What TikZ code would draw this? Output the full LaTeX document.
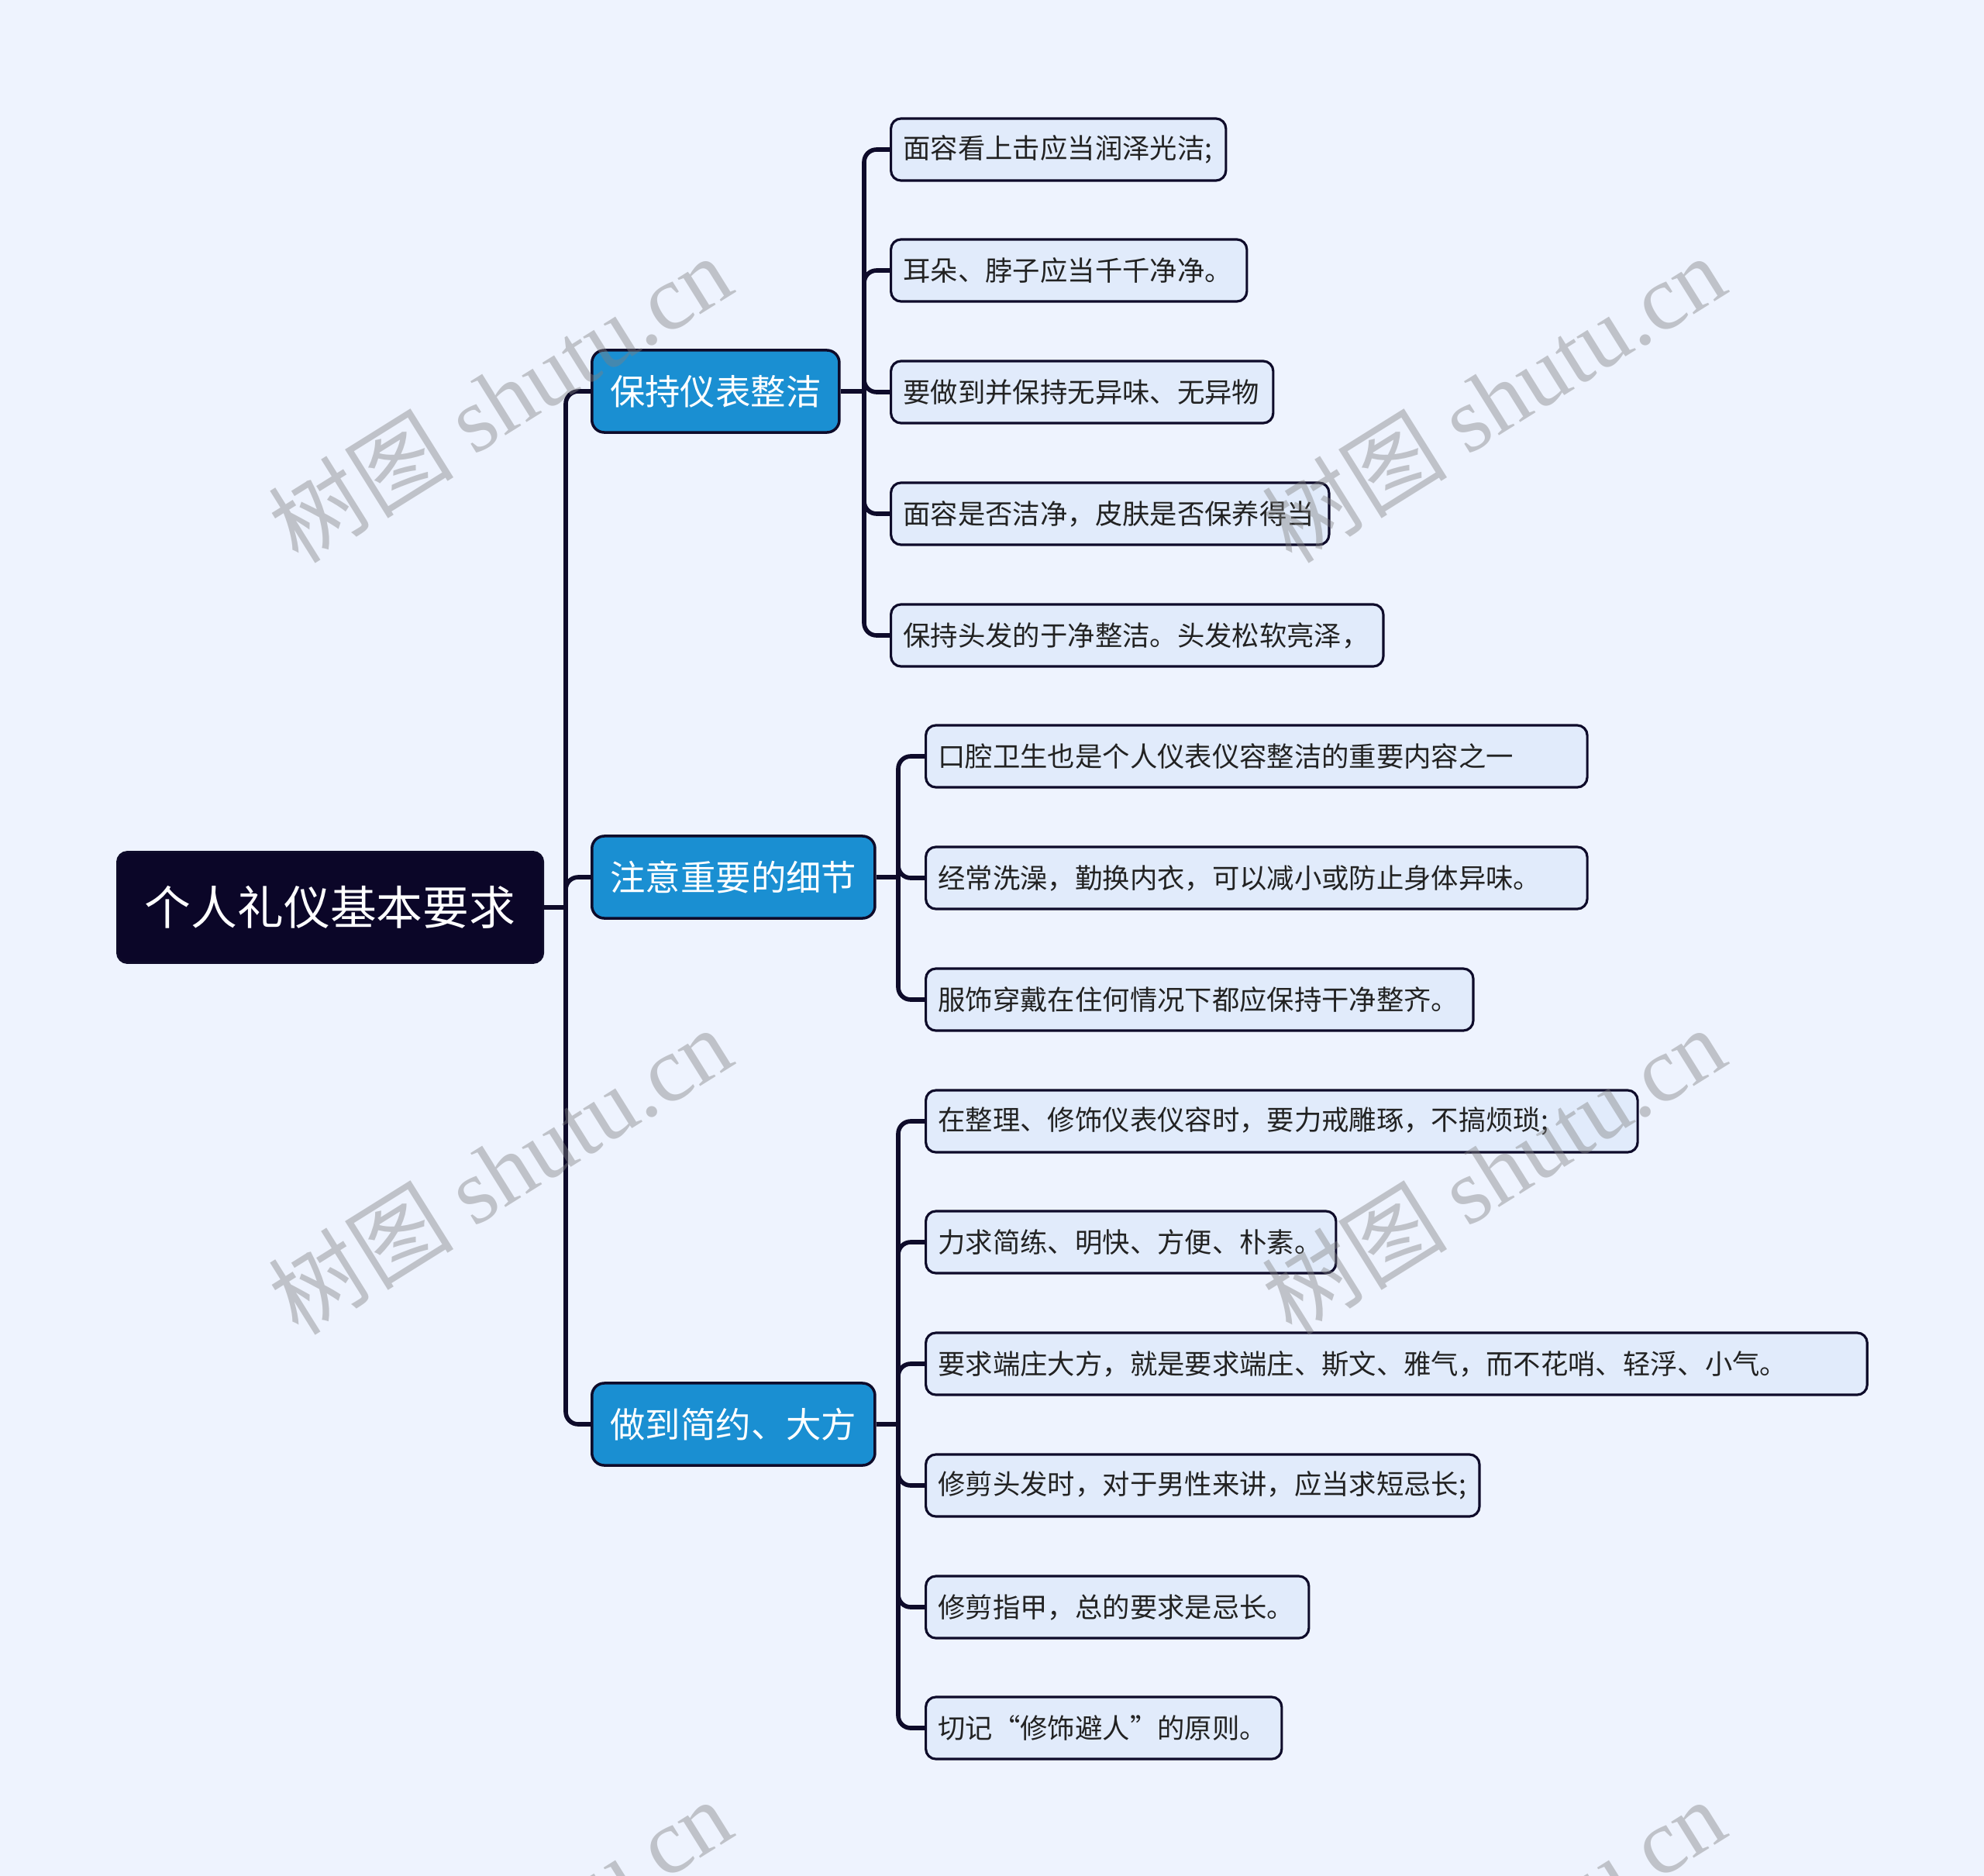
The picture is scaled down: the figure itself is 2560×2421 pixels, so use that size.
\documentclass[tikz,border=0pt]{standalone}
\usepackage{fontspec}
\setmainfont{Noto Sans CJK SC}
\newfontfamily\wmlatin{Liberation Serif}
\definecolor{bgc}{HTML}{EEF3FE}
\definecolor{rootc}{HTML}{0B0628}
\definecolor{brc}{HTML}{1A8FD2}
\definecolor{leafc}{HTML}{E1EBFB}
\definecolor{linec}{HTML}{0E0B2A}
\definecolor{txtc}{HTML}{222222}
\newcommand\lftext[2]{\hbox to #1{\hspace{0.16cm}#2\hss}}
\begin{document}
\begin{tikzpicture}[x=0.01cm,y=-0.01cm,
  rootbox/.style={draw=linec, line width=0.8pt, fill=rootc, text=white, rounded corners=0.13cm,
    anchor=west, minimum height=1.43cm, minimum width=5.49cm, inner sep=0pt,
    font=\fontsize{17pt}{20pt}\selectfont},
  brbox/.style={draw=linec, line width=1pt, fill=brc, text=white, rounded corners=0.16cm,
    anchor=west, minimum height=1.06cm, inner sep=0pt,
    font=\fontsize{12.9pt}{15pt}\selectfont},
  leafbox/.style={draw=linec, line width=0.9pt, fill=leafc, text=txtc, rounded corners=0.13cm,
    anchor=west, minimum height=0.80cm, inner sep=0pt,
    font=\fontsize{10.05pt}{12pt}\selectfont},
  conn/.style={draw=linec, line width=1.6pt, rounded corners=0.16cm},
  wm/.style={text=gray, opacity=0.42, rotate=32, font=\fontsize{34pt}{38pt}\selectfont}
]
\fill[bgc] (0,0) rectangle (2560,2421);
\useasboundingbox (0,0) rectangle (2560,2421);
\clip (0,0) rectangle (2560,2421);

% root
\node[rootbox] (r) at (150,1171) {个人礼仪基本要求};

% branches
\node[brbox, minimum width=3.19cm] (b1) at (762,505) {保持仪表整洁};
\node[brbox, minimum width=3.65cm] (b2) at (762,1132) {注意重要的细节};
\node[brbox, minimum width=3.65cm] (b3) at (762,1838) {做到简约、大方};

% leaves group 1
\node[leafbox] (l11) at (1148,193) {\lftext{4.32cm}{面容看上击应当润泽光洁;}};
\node[leafbox] (l12) at (1148,349) {\lftext{4.59cm}{耳朵、脖子应当千千净净。}};
\node[leafbox] (l13) at (1148,506) {\lftext{4.93cm}{要做到并保持无异味、无异物}};
\node[leafbox] (l14) at (1148,663) {\lftext{5.65cm}{面容是否洁净，皮肤是否保养得当}};
\node[leafbox] (l15) at (1148,820) {\lftext{6.35cm}{保持头发的于净整洁。头发松软亮泽，}};

% leaves group 2
\node[leafbox] (l21) at (1193,976) {\lftext{8.53cm}{口腔卫生也是个人仪表仪容整洁的重要内容之一}};
\node[leafbox] (l22) at (1193,1133) {\lftext{8.53cm}{经常洗澡，勤换内衣，可以减小或防止身体异味。}};
\node[leafbox] (l23) at (1193,1290) {\lftext{7.06cm}{服饰穿戴在住何情况下都应保持干净整齐。}};

% leaves group 3
\node[leafbox] (l31) at (1193,1447) {\lftext{9.18cm}{在整理、修饰仪表仪容时，要力戒雕琢，不搞烦琐;}};
\node[leafbox] (l32) at (1193,1603) {\lftext{5.29cm}{力求简练、明快、方便、朴素。}};
\node[leafbox] (l33) at (1193,1760) {\lftext{12.14cm}{要求端庄大方，就是要求端庄、斯文、雅气，而不花哨、轻浮、小气。}};
\node[leafbox] (l34) at (1193,1917) {\lftext{7.14cm}{修剪头发时，对于男性来讲，应当求短忌长;}};
\node[leafbox] (l35) at (1193,2074) {\lftext{4.94cm}{修剪指甲，总的要求是忌长。}};
\node[leafbox] (l36) at (1193,2230) {\lftext{4.59cm}{切记“修饰避人”的原则。}};

% junctions
\coordinate (j0) at (730,1171);
\coordinate (j1) at (1115,505);
\coordinate (j2) at (1159,1132);
\coordinate (j3) at (1159,1838);

% connectors
\draw[conn] (r.east) -- (j0);
\foreach \b in {b1,b2,b3} \draw[conn] (\b.west) -| (j0);
\draw[conn] (b1.east) -- (j1);
\foreach \l in {l11,l12,l13,l14,l15} \draw[conn] (\l.west) -| (j1);
\draw[conn] (b2.east) -- (j2);
\foreach \l in {l21,l22,l23} \draw[conn] (\l.west) -| (j2);
\draw[conn] (b3.east) -- (j3);
\foreach \l in {l31,l32,l33,l34,l35,l36} \draw[conn] (\l.west) -| (j3);

% watermarks
\foreach \p [count=\i] in {(645,514),(1927,514),(645,1510),(1927,1510),(645,2506),(1927,2506)}
  \node[wm] (wm\i) at \p {树图 {\wmlatin shutu.cn}};
\end{tikzpicture}
\end{document}
